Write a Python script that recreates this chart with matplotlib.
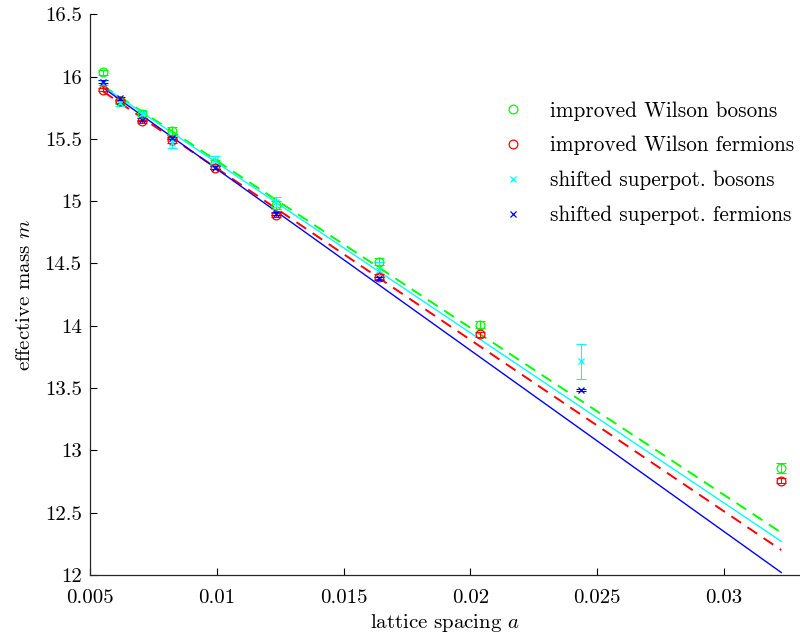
import matplotlib
matplotlib.use('Agg')
import matplotlib.pyplot as plt
import numpy as np

plt.rcParams['font.family'] = 'serif'
plt.rcParams['font.serif'] = ['cmr10', 'DejaVu Serif']
plt.rcParams['mathtext.fontset'] = 'cm'
plt.rcParams['axes.formatter.use_mathtext'] = True
plt.rcParams['axes.unicode_minus'] = False

# lattice spacings
a_all = [0.00552, 0.00618, 0.00707, 0.00824, 0.00992, 0.01235, 0.01639, 0.02038, 0.02437, 0.03226]

# improved Wilson bosons
a_iwb = [0.00552, 0.00618, 0.00707, 0.00824, 0.00992, 0.01235, 0.01639, 0.02038, 0.03226]
m_iwb = [16.035, 15.80, 15.70, 15.565, 15.31, 14.97, 14.515, 14.01, 12.86]
e_iwb = [0.02, 0.02, 0.02, 0.03, 0.02, 0.03, 0.03, 0.03, 0.04]

# improved Wilson fermions
a_iwf = [0.00552, 0.00618, 0.00707, 0.00824, 0.00992, 0.01235, 0.01639, 0.02038, 0.03226]
m_iwf = [15.896, 15.80, 15.64, 15.49, 15.27, 14.89, 14.393, 13.93, 12.755]
e_iwf = [0.015, 0.015, 0.015, 0.02, 0.015, 0.015, 0.02, 0.02, 0.02]

# shifted superpotential bosons
a_ssb = [0.00552, 0.00618, 0.00707, 0.00824, 0.00992, 0.01235, 0.01639, 0.02437]
m_ssb = [15.95, 15.79, 15.70, 15.468, 15.33, 14.995, 14.45, 13.715]
e_ssb = [0.02, 0.03, 0.03, 0.04, 0.03, 0.04, 0.06, 0.14]

# shifted superpotential fermions
a_ssf = [0.00552, 0.00618, 0.00707, 0.00824, 0.00992, 0.01235, 0.01639, 0.02437]
m_ssf = [15.96, 15.826, 15.655, 15.506, 15.27, 14.90, 14.38, 13.485]
e_ssf = [0.01, 0.01, 0.01, 0.01, 0.01, 0.01, 0.01, 0.01]

# linear fits (values at the ends of the fit range)
fit_a = [0.00552, 0.03226]
fit_iwb = [15.925, 12.34]
fit_iwf = [15.88, 12.20]
fit_ssb = [15.92, 12.27]
fit_ssf = [15.91, 12.02]

labels = ['improved Wilson bosons', 'improved Wilson fermions',
          'shifted superpot. bosons', 'shifted superpot. fermions']

xticks = [0.005, 0.01, 0.015, 0.02, 0.025, 0.03]
xticklabels = ['0.005', '0.01', '0.015', '0.02', '0.025', '0.03']
yticks = [12, 12.5, 13, 13.5, 14, 14.5, 15, 15.5, 16, 16.5]
yticklabels = ['12', '12.5', '13', '13.5', '14', '14.5', '15', '15.5', '16', '16.5']

G = '#00ff00'
R = '#ff0000'
C = '#00ffff'
B = '#0000ff'

fig = plt.figure(figsize=(8, 6.43), dpi=100)
ax = fig.add_axes([0.1125, 0.1058, 0.8875, 0.872])

lw = 1.0
ax.plot(fit_a, fit_iwb, color=G, ls=(0, (6, 4)), lw=1.4)
ax.plot(fit_a, fit_iwf, color=R, ls=(0, (6, 4)), lw=1.4)
ax.plot(fit_a, fit_ssb, color=C, ls='-', lw=lw)
ax.plot(fit_a, fit_ssf, color=B, ls='-', lw=lw)

ekw = dict(fmt='none', capsize=3.5, elinewidth=0.8, capthick=0.8)
ax.errorbar(a_iwb, m_iwb, yerr=e_iwb, ecolor=G, **ekw)
ax.errorbar(a_iwf, m_iwf, yerr=e_iwf, ecolor=R, **ekw)
ax.errorbar(a_ssb, m_ssb, yerr=e_ssb, ecolor=C, **ekw)
ax.errorbar(a_ssf, m_ssf, yerr=e_ssf, ecolor=B, **ekw)

h1, = ax.plot(a_iwb, m_iwb, 'o', ms=6.3, mfc='none', mec=G, mew=0.9, ls='none', label=labels[0])
h2, = ax.plot(a_iwf, m_iwf, 'o', ms=6.3, mfc='none', mec=R, mew=0.9, ls='none', label=labels[1])
h3, = ax.plot(a_ssb, m_ssb, 'x', ms=4.5, mec=C, mew=0.9, ls='none', label=labels[2])
h4, = ax.plot(a_ssf, m_ssf, 'x', ms=4.5, mec=B, mew=0.9, ls='none', label=labels[3])

ax.set_xlim(0.005, 0.033)
ax.set_ylim(12, 16.5)
ax.set_xticks(xticks)
ax.set_xticklabels(xticklabels)
ax.set_yticks(yticks)
ax.set_yticklabels(yticklabels)
ax.tick_params(direction='in', length=5, width=0.8, labelsize=15)
ax.tick_params(axis='y', pad=6)
ax.tick_params(axis='x', pad=10)
for s in ['top', 'right']:
    ax.spines[s].set_visible(False)
for s in ['left', 'bottom']:
    ax.spines[s].set_color('#262626')
    ax.spines[s].set_linewidth(0.9)

ax.set_xlabel('lattice spacing $a$', fontsize=15, labelpad=4)
ax.set_ylabel('effective mass $m$', fontsize=15, labelpad=8)

leg = ax.legend(handles=[h1, h2, h3, h4], loc='upper left',
                bbox_to_anchor=(0.604, 0.856), bbox_transform=fig.transFigure,
                frameon=False, fontsize=15.3, handlelength=2.0,
                handletextpad=0.75, labelspacing=0.72, borderaxespad=0)

fig.savefig('out.png', dpi=100)
